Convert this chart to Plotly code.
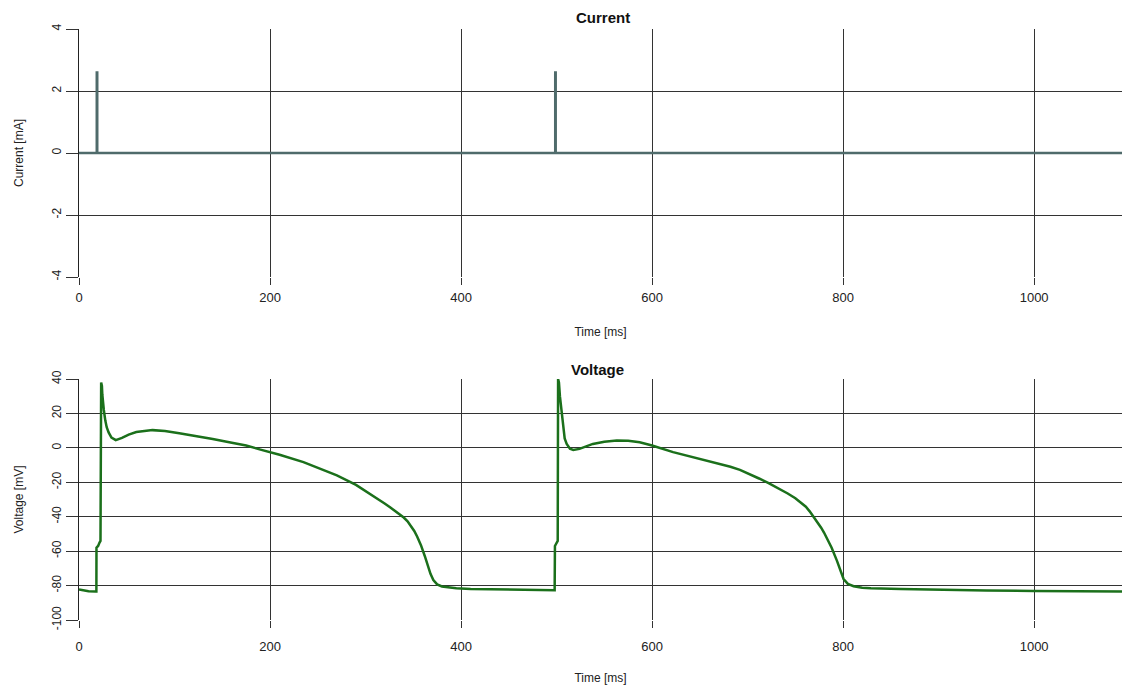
import plotly.graph_objects as go

# ---- data ----
t_current = [0, 18.6, 18.6, 19.1, 19.1, 498.6, 498.6, 499.1, 499.1, 1092]
i_current = [0, 0, 2.6, 2.6, 0, 0, 2.6, 2.6, 0, 0]

t_voltage = [0, 5, 10, 17.5, 18.2, 18.3, 20, 21.5, 22.5, 23.2, 24, 24.4, 25, 26, 27.5,
             29, 31, 34, 38.5, 45, 52, 60, 77, 90, 105, 120, 140, 160, 175, 190, 200,
             210, 235, 250, 270, 290, 305, 320, 326, 331, 336, 340, 344, 348, 351, 354, 358,
             362, 365, 368, 371, 375, 380, 385, 395, 410, 450, 490, 498, 498.3, 499.5, 500.5,
             501.2, 501.6, 502.5, 503.5, 504.3, 505.5, 507, 508.5, 510.6, 514, 517.5, 524, 538,
             550, 563, 575, 587, 600, 622, 640, 657, 670, 682, 692, 702, 712, 722, 732, 742,
             750, 756, 761, 765, 769, 773, 777, 780, 783, 788, 793.5, 797, 800.5, 805, 811,
             820, 829, 860, 891, 950, 1000, 1050, 1092]
v_voltage = [-82.3, -83, -83.3, -83.4, -83.4, -58, -57, -55, -54, 38, 36, 31, 27, 22, 16,
             12, 9, 6, 4.5, 5.8, 7.7, 9.2, 10.3, 9.8, 8.5, 7.2, 5.2, 3, 1.4, -1, -2.5,
             -4, -8.3, -11.5, -16, -21.5, -26.7, -32.3, -34.6, -36.6, -38.6, -40.5, -42.7, -45.6,
             -48.3, -51.5, -56.5, -62.8, -68, -73.2, -76.8, -79.3, -80.5, -81, -81.6, -82, -82.5,
             -82.6, -82.7, -57, -56, -54.8, -54, 40, 38, 30, 25.6, 18, 10.1, 5.5, 2.3, -0.5,
             -1.2, -0.6, 2.3, 3.6, 4.3, 4.1, 3.3, 1.4, -2.5, -5, -7.8, -9.4, -11, -12.8, -15.2,
             -17.8, -20.5, -23.4, -26.5, -29.3, -31.8, -34.2, -36.9, -40, -43, -46.4, -49.2,
             -52.2, -58, -65.5, -71, -76.2, -79, -80.4, -81.2, -81.6, -82, -82.4, -82.8, -83.1,
             -83.3, -83.5]

x_ticks = [0, 200, 400, 600, 800, 1000]
cur_ticks = [-4, -2, 0, 2, 4]
volt_ticks = [-100, -80, -60, -40, -20, 0, 20, 40]

W, H = 1122, 687
fig = go.Figure()

fig.add_trace(go.Scatter(x=t_current, y=i_current, mode="lines",
                         line=dict(color="#4f6b6b", width=2.5), xaxis="x", yaxis="y",
                         showlegend=False, hoverinfo="skip"))
fig.add_trace(go.Scatter(x=t_voltage, y=v_voltage, mode="lines",
                         line=dict(color="#1b701b", width=2.5), xaxis="x2", yaxis="y2",
                         showlegend=False, hoverinfo="skip"))

font = "Liberation Sans, Arial, sans-serif"
grid = "#333333"

def yd(top_px, bot_px):
    return [1 - bot_px / H, 1 - top_px / H]

def xaxis_style(label_pad, title_pad):
    return dict(range=[0, 1092], tickvals=x_ticks, ticktext=[str(v) for v in x_ticks],
                showgrid=True, gridcolor=grid, gridwidth=1.2,
                ticks="outside", ticklen=7, tickcolor=grid, zeroline=False,
                tickfont=dict(family=font, size=13, color="#222"), ticklabelstandoff=label_pad,
                title=dict(text="Time [ms]", font=dict(family=font, size=12, color="#222"),
                           standoff=title_pad),
                showline=False, automargin=False)

common_y = dict(showgrid=True, gridcolor=grid, gridwidth=1.2, ticks="outside", ticklen=12,
                tickcolor=grid, zeroline=False, tickangle=-90,
                tickfont=dict(family=font, size=12, color="#222"),
                showline=True, linecolor="#222", linewidth=1, automargin=False)

fig.update_layout(
    width=W, height=H,
    margin=dict(l=79, r=0, t=0, b=0, autoexpand=False),
    paper_bgcolor="white", plot_bgcolor="white",
    xaxis=dict(domain=[0, 1], anchor="y", **xaxis_style(1, 24)),
    yaxis=dict(domain=yd(29, 277), anchor="x", range=[-4, 4], tickvals=cur_ticks,
               ticktext=[str(v) for v in cur_ticks],
               title=dict(text="Current [mA]", font=dict(family=font, size=12, color="#222"), standoff=24),
               **common_y),
    xaxis2=dict(domain=[0, 1], anchor="y2", **xaxis_style(7, 21)),
    yaxis2=dict(domain=yd(379, 620), anchor="x2", range=[-100, 40], tickvals=volt_ticks,
                ticktext=[str(v) for v in volt_ticks],
                title=dict(text="Voltage [mV]", font=dict(family=font, size=12, color="#222"), standoff=24),
                **common_y),
    annotations=[
        dict(text="<b>Current</b>", x=(603 - 79) / (W - 79), y=1 - 18 / H, xref="paper", yref="paper",
             xanchor="center", yanchor="middle",
             showarrow=False, font=dict(family=font, size=15, color="#111")),
        dict(text="<b>Voltage</b>", x=(597 - 79) / (W - 79), y=1 - 369 / H, xref="paper", yref="paper",
             xanchor="center", yanchor="middle",
             showarrow=False, font=dict(family=font, size=15, color="#111")),
    ],
)

fig.write_html("out.html", config={"displayModeBar": False},
               post_script="document.body.style.margin='0';document.body.style.overflow='hidden';")
